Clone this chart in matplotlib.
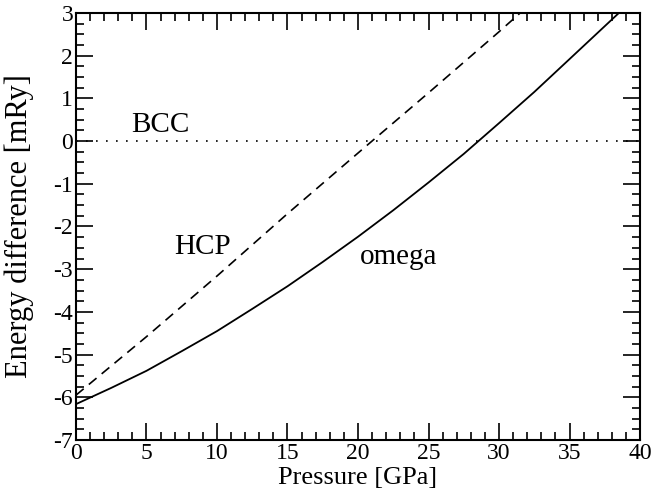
import matplotlib.pyplot as plt
from matplotlib.ticker import MultipleLocator

plt.rcParams['font.family'] = ['Liberation Serif', 'DejaVu Serif']
plt.rcParams['axes.unicode_minus'] = False

# omega phase (solid)
omega_p = [0, 2.5, 5, 7.5, 10, 12.5, 15, 17.5, 20, 22.5, 25, 27.5, 30, 32.5, 35, 38.5]
omega_e = [-6.16, -5.78, -5.38, -4.92, -4.45, -3.93, -3.40, -2.83, -2.24, -1.62,
           -0.97, -0.30, 0.42, 1.15, 1.92, 3.0]

# HCP phase (dashed)
hcp_p = [0, 5, 10, 15, 20, 25, 30, 31.5]
hcp_e = [-5.95, -4.58, -3.16, -1.70, -0.28, 1.13, 2.56, 3.0]

# BCC reference
bcc_p = [0, 40]
bcc_e = [0, 0]

fig = plt.figure(figsize=(6.54, 4.98), dpi=100)
ax = fig.add_axes([0.1162, 0.1165, 0.8624, 0.8574])

ax.plot(omega_p, omega_e, color="black", linewidth=1.3)
ax.plot(hcp_p, hcp_e, color="black", linewidth=1.2, linestyle=(0, (6, 4)))
ax.plot(bcc_p, bcc_e, color="black", linewidth=1.2, linestyle=(0, (1, 5)))

ax.text(6.0, 0.37, "BCC", fontsize=21, ha="center", va="center")
ax.text(9.0, -2.47, "HCP", fontsize=21, ha="center", va="center")
ax.text(22.9, -2.72, "omega", fontsize=21, ha="center", va="center")

ax.set_xlim(0, 40)
ax.set_ylim(-7, 3)
ax.xaxis.set_major_locator(MultipleLocator(5))
ax.xaxis.set_minor_locator(MultipleLocator(1))
ax.yaxis.set_major_locator(MultipleLocator(1))
ax.yaxis.set_minor_locator(MultipleLocator(0.25))
ax.tick_params(which="both", direction="in", top=True, right=True, labelsize=17, width=1.2)
ax.tick_params(which="major", length=12, pad=2)
ax.tick_params(which="minor", length=6)
for s in ax.spines.values():
    s.set_linewidth(1.5)

ax.set_xlabel("Pressure [GPa]", fontsize=19, labelpad=2)
ax.set_ylabel("Energy difference [mRy]", fontsize=22, labelpad=14)

fig.savefig("out.png")
